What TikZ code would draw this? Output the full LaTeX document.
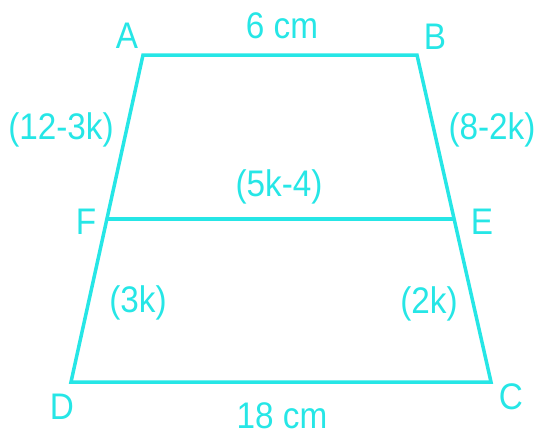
\documentclass[tikz,border=0pt]{standalone}
\usepackage{fontspec}
\setmainfont{Liberation Sans}[FakeStretch=0.9]
\definecolor{cy}{RGB}{38,230,230}
\begin{document}
\begin{tikzpicture}[x=1pt,y=-1pt,
  lbl/.style={text=cy,font=\fontsize{37}{40}\selectfont,inner sep=0pt},
  edge/.style={draw=cy,line width=3.5pt,line join=miter}]
\useasboundingbox (0,0) rectangle (537,437);
\coordinate (A) at (143,55);
\coordinate (B) at (417,55);
\coordinate (F) at (106,219);
\coordinate (E) at (454,219);
\coordinate (D) at (71,382);
\coordinate (C) at (491,382);
\draw[edge] (A) -- (B) -- (C) -- (D) -- cycle;
\draw[edge] (F) -- (E);
\node[lbl] (lA) at (127,36) {A};
\node[lbl] (lB) at (435,37) {B};
\node[lbl] (lF) at (86,222) {F};
\node[lbl] (lE) at (482,222) {E};
\node[lbl] (lD) at (62,407) {D};
\node[lbl] (lC) at (511,397) {C};
\node[lbl] (t6) at (282,26) {6 cm};
\node[lbl] (t18) at (282,416) {18 cm};
\node[lbl] (tAF) at (61,130) {(12-3k)};
\node[lbl] (tBE) at (492,130) {(8-2k)};
\node[lbl] (tFE) at (279,187) {(5k-4)};
\node[lbl] (tFD) at (138,303) {(3k)};
\node[lbl] (tEC) at (429,304) {(2k)};
\end{tikzpicture}
\end{document}
